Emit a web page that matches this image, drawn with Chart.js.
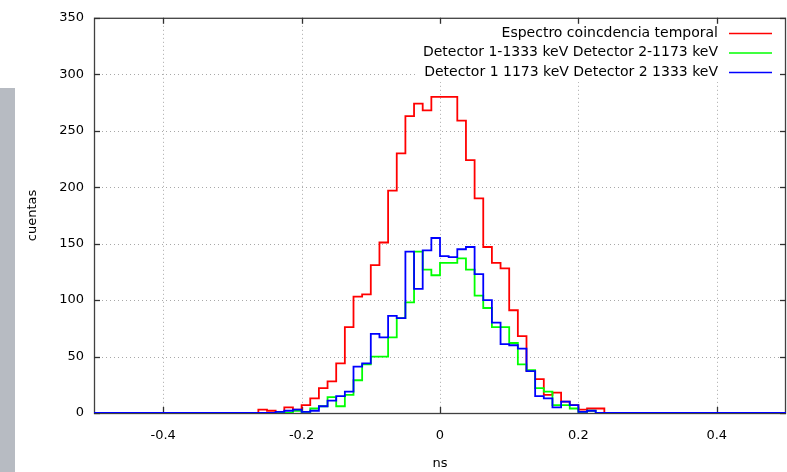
<!DOCTYPE html>
<html>
<head>
<meta charset="utf-8">
<script src="https://cdn.jsdelivr.net/npm/chart.js@4.4.1/dist/chart.umd.min.js"></script>
<style>
  html, body { margin: 0; padding: 0; background: #ffffff; }
  #wrap { position: relative; width: 787px; height: 472px; }
  #side { position: absolute; left: 0; top: 88px; width: 15px; height: 384px; background: #b7bbc2; }
</style>
</head>
<body>
<div id="wrap">
  <canvas id="c" width="787" height="472"></canvas>
  <div id="side"></div>
</div>
<script>
// ---- data (bin left edges in ns, counts per bin) ----
const binEdges = [-0.2625, -0.25, -0.2375, -0.225, -0.2125, -0.2, -0.1875, -0.175, -0.1625, -0.15,
                  -0.1375, -0.125, -0.1125, -0.1, -0.0875, -0.075, -0.0625, -0.05, -0.0375, -0.025,
                  -0.0125, 0, 0.0125, 0.025, 0.0375, 0.05, 0.0625, 0.075, 0.0875, 0.1,
                  0.1125, 0.125, 0.1375, 0.15, 0.1625, 0.175, 0.1875, 0.2, 0.2125, 0.225];
const lastBinEnd = 0.2375;
const rangeStart = -0.5;
const rangeEnd = 0.5;

const seriesLabels = [
  'Espectro coincdencia temporal',
  'Detector 1-1333 keV Detector 2-1173 keV',
  'Detector 1 1173 keV Detector 2 1333 keV'
];
const espectro = [3, 2, 1, 5, 3, 7, 13, 22, 28, 44,
                  76, 103, 105, 131, 151, 197, 230, 263, 274, 268,
                  280, 280, 280, 259, 224, 190, 147, 133, 128, 91,
                  68, 37, 30, 16, 18, 10, 7, 3, 4, 4];
const det1333 = [0, 0, 0, 0, 2, 1, 4, 6, 14, 6,
                 16, 29, 43, 50, 50, 67, 84, 98, 143, 127,
                 122, 133, 133, 137, 127, 104, 93, 76, 76, 62,
                 43, 38, 22, 19, 7, 7, 4, 1, 2, 0];
const det1173 = [0, 0, 1, 2, 3, 1, 2, 6, 11, 15,
                 19, 41, 44, 70, 67, 86, 84, 143, 110, 144,
                 155, 139, 138, 145, 147, 123, 100, 80, 61, 60,
                 57, 37, 15, 13, 5, 10, 7, 1, 2, 0];

const xTickValues = [-0.4, -0.2, 0, 0.2, 0.4];
const xTickLabels = ['-0.4', '-0.2', '0', '0.2', '0.4'];
const yTickValues = [0, 50, 100, 150, 200, 250, 300, 350];
const yTickLabels = ['0', '50', '100', '150', '200', '250', '300', '350'];

// ---- build step points ----
function stepPoints(vals) {
  const pts = [{x: rangeStart, y: 0}];
  binEdges.forEach((e, i) => pts.push({x: e, y: vals[i]}));
  pts.push({x: lastBinEnd, y: 0});
  pts.push({x: rangeEnd, y: 0});
  return pts;
}

const colors = ['#ff0000', '#00ff00', '#0000ff'];

Chart.defaults.font.family = "'DejaVu Sans', sans-serif";
Chart.defaults.font.size = 13;
Chart.defaults.color = '#000000';

const framePlugin = {
  id: 'gnuFrame',
  beforeDatasetsDraw(chart) {
    const {ctx, chartArea: a, scales: {x, y}} = chart;
    ctx.save();
    // dotted grid
    ctx.strokeStyle = '#a8a8a8';
    ctx.lineWidth = 1;
    ctx.setLineDash([1, 3]);
    xTickValues.forEach(v => {
      const px = Math.round(x.getPixelForValue(v)) + 0.5;
      ctx.beginPath(); ctx.moveTo(px, a.top); ctx.lineTo(px, a.bottom); ctx.stroke();
    });
    yTickValues.forEach(v => {
      if (v === 0 || v === 350) return;
      const py = Math.round(y.getPixelForValue(v)) + 0.5;
      ctx.beginPath(); ctx.moveTo(a.left, py); ctx.lineTo(a.right, py); ctx.stroke();
    });
    ctx.setLineDash([]);
    // opaque key box
    ctx.font = "14px 'DejaVu Sans', sans-serif";
    let maxW = 0;
    seriesLabels.forEach(t => { maxW = Math.max(maxW, ctx.measureText(t).width); });
    const textRight = 718;
    ctx.fillStyle = '#ffffff';
    ctx.fillRect(textRight - maxW - 8, 23, 780 - (textRight - maxW - 8), 59);
    // frame
    ctx.strokeStyle = '#404040';
    ctx.lineWidth = 1.3;
    ctx.strokeRect(a.left + 0.5, a.top + 0.5, a.right - a.left - 1, a.bottom - a.top);
    // inward ticks, mirrored
    const tl = 6;
    ctx.strokeStyle = '#303030';
    xTickValues.forEach(v => {
      const px = Math.round(x.getPixelForValue(v)) + 0.5;
      ctx.beginPath(); ctx.moveTo(px, a.bottom); ctx.lineTo(px, a.bottom - tl); ctx.stroke();
      ctx.beginPath(); ctx.moveTo(px, a.top); ctx.lineTo(px, a.top + tl); ctx.stroke();
    });
    yTickValues.forEach(v => {
      const py = Math.round(y.getPixelForValue(v)) + 0.5;
      ctx.beginPath(); ctx.moveTo(a.left, py); ctx.lineTo(a.left + tl, py); ctx.stroke();
      ctx.beginPath(); ctx.moveTo(a.right, py); ctx.lineTo(a.right - tl, py); ctx.stroke();
    });
    // key
    const rows = [33, 52.5, 72];
    ctx.textAlign = 'right';
    ctx.textBaseline = 'middle';
    ctx.fillStyle = '#000000';
    chart.data.datasets.forEach((ds, i) => {
      ctx.fillText(ds.label, textRight, rows[i]);
      ctx.strokeStyle = ds.borderColor;
      ctx.lineWidth = 1.5;
      ctx.beginPath(); ctx.moveTo(729, rows[i] + 0.5); ctx.lineTo(772, rows[i] + 0.5); ctx.stroke();
    });
    ctx.restore();
  }
};

new Chart(document.getElementById('c'), {
  type: 'line',
  data: {
    datasets: [
      {label: seriesLabels[0], data: stepPoints(espectro), borderColor: colors[0], order: 3},
      {label: seriesLabels[1], data: stepPoints(det1333), borderColor: colors[1], order: 2},
      {label: seriesLabels[2], data: stepPoints(det1173), borderColor: colors[2], order: 1}
    ].map(d => Object.assign(d, {stepped: 'before', borderWidth: 1.8, pointRadius: 0, fill: false, tension: 0}))
  },
  options: {
    responsive: false,
    animation: false,
    layout: {padding: {top: 14, right: 1, left: 0, bottom: 0}},
    plugins: {legend: {display: false}, tooltip: {enabled: false}},
    scales: {
      x: {
        type: 'linear', min: rangeStart, max: rangeEnd,
        afterBuildTicks: s => { s.ticks = xTickValues.map(v => ({value: v})); },
        afterFit: s => { s.height = 59; },
        grid: {display: false, drawTicks: false},
        border: {display: false},
        ticks: {padding: 15, color: '#000', autoSkip: false, maxRotation: 0,
                callback: (v, i) => xTickLabels[i]},
        title: {display: true, text: 'ns', color: '#000', padding: {top: 0, bottom: 1}}
      },
      y: {
        type: 'linear', min: 0, max: 350,
        afterBuildTicks: s => { s.ticks = yTickValues.map(v => ({value: v})); },
        afterFit: s => { s.width = 94; },
        grid: {display: false, drawTicks: false},
        border: {display: false},
        ticks: {padding: 10, color: '#000', autoSkip: false,
                callback: (v, i) => yTickLabels[i]},
        title: {display: true, text: 'cuentas', color: '#000', padding: {top: 25, bottom: 0}}
      }
    }
  },
  plugins: [framePlugin]
});
</script>
</body>
</html>
